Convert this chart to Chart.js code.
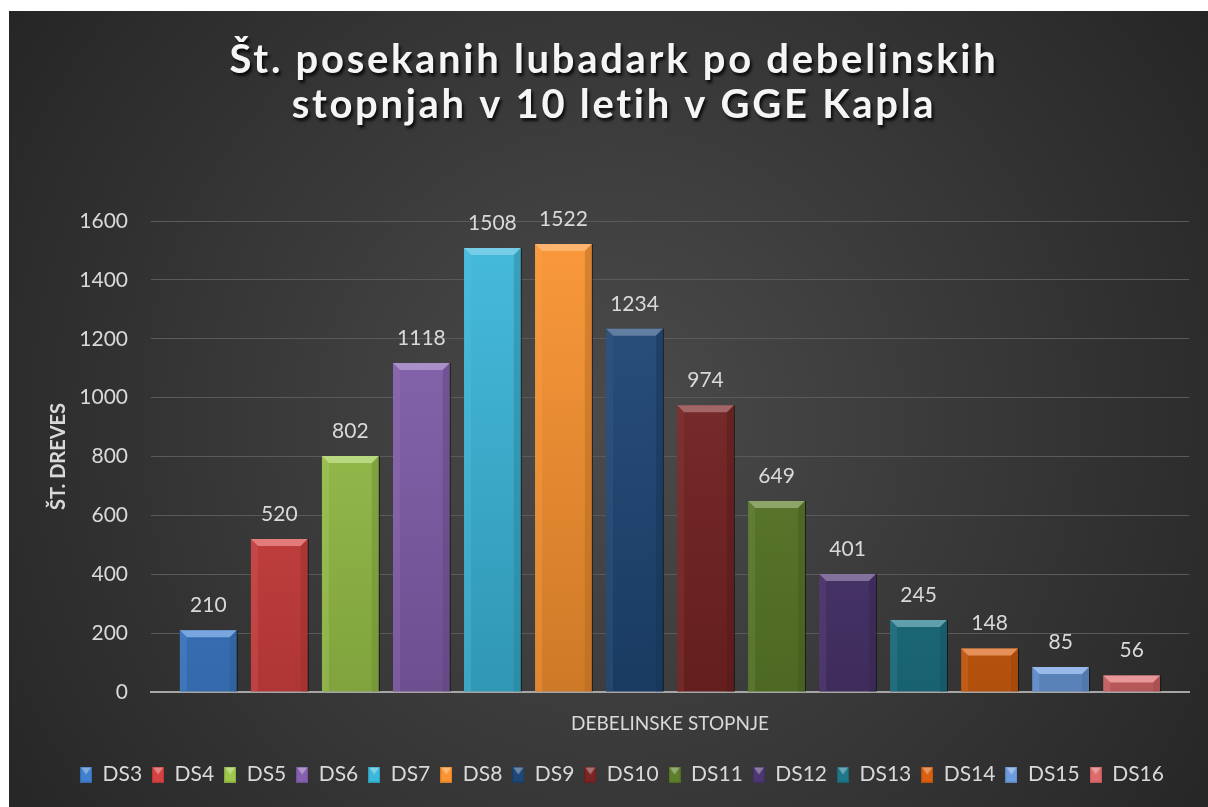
<!DOCTYPE html>
<html>
<head>
<meta charset="utf-8">
<script src="https://cdn.jsdelivr.net/npm/chart.js@4"></script>
<style>
  html, body { margin: 0; padding: 0; background: #fff; }
  #wrap { width: 1208px; height: 807px; }
</style>
</head>
<body>
<div id="wrap"><canvas id="chart" width="1208" height="807"></canvas></div>
<script>
// data
const seriesNames = ["DS3", "DS4", "DS5", "DS6", "DS7", "DS8", "DS9", "DS10", "DS11", "DS12", "DS13", "DS14", "DS15", "DS16"];
const seriesValues = [210, 520, 802, 1118, 1508, 1522, 1234, 974, 649, 401, 245, 148, 85, 56];
const seriesColors = ["#3f80d0", "#d64241", "#9cc74a", "#8560b0", "#3bb8dc", "#fb9430", "#1f4878",
                      "#7a2424", "#5e7f2a", "#4d3672", "#1d7689", "#d86010", "#6d9de0", "#dd6a6c"];
const yTicks = [0, 200, 400, 600, 800, 1000, 1200, 1400, 1600];
const titleLines = ["Št. posekanih lubadark po debelinskih", "stopnjah v 10 letih v GGE Kapla"];
const yTitle = "ŠT. DREVES";
const xTitle = "DEBELINSKE STOPNJE";

const FONT = "Lato, 'Open Sans', sans-serif";
const TXT = "#d9d9d9";

function shade(hex, amt) {
  let r = parseInt(hex.slice(1, 3), 16), g = parseInt(hex.slice(3, 5), 16), b = parseInt(hex.slice(5, 7), 16);
  const f = v => Math.max(0, Math.min(255, Math.round(amt >= 0 ? v + (255 - v) * amt : v * (1 + amt))));
  return "rgb(" + f(r) + "," + f(g) + "," + f(b) + ")";
}

// small bevelled icons for the legend
function legendIcon(col) {
  const c = document.createElement("canvas");
  c.width = 12; c.height = 16;
  const x = c.getContext("2d");
  x.fillStyle = shade(col, -0.15);
  x.fillRect(0, 0, 12, 16);
  x.fillStyle = col;
  x.fillRect(1, 1, 10, 14);
  x.fillStyle = shade(col, 0.35);
  x.beginPath(); x.moveTo(1, 1); x.lineTo(11, 1); x.lineTo(6, 8); x.closePath(); x.fill();
  return c;
}
const icons = seriesColors.map(legendIcon);

const bgPlugin = {
  id: "bg",
  beforeDraw(chart) {
    const ctx = chart.ctx;
    ctx.save();
    ctx.fillStyle = "#ffffff";
    ctx.fillRect(0, 0, chart.width, chart.height);
    const g = ctx.createRadialGradient(610, 420, 0, 610, 420, 760);
    g.addColorStop(0, "#4b4b4b");
    g.addColorStop(1, "#242424");
    ctx.fillStyle = g;
    ctx.fillRect(9, 11, chart.width - 9, chart.height - 11);
    ctx.restore();
  },
  afterLayout(chart) {
    // legend sits a bit right of the canvas centre in the original
    chart.legend.left += 55;
  }
};

const titlePlugin = {
  id: "titleDraw",
  afterDraw(chart) {
    const ctx = chart.ctx;
    ctx.save();
    ctx.font = "bold 40px " + FONT;
    ctx.letterSpacing = "2.7px";
    ctx.textAlign = "center";
    ctx.textBaseline = "middle";
    ctx.shadowColor = "rgba(0,0,0,0.8)";
    ctx.shadowOffsetX = 2;
    ctx.shadowOffsetY = 3;
    ctx.shadowBlur = 3;
    ctx.fillStyle = "#f5f5f5";
    ctx.fillText(titleLines[0], 614, 60);
    ctx.fillText(titleLines[1], 614, 105);
    ctx.restore();
  }
};

// bevel on top of each bar plus value labels
const bevelPlugin = {
  id: "bevel",
  afterDatasetsDraw(chart) {
    const ctx = chart.ctx;
    ctx.save();
    chart.data.datasets.forEach((ds, i) => {
      const meta = chart.getDatasetMeta(i);
      meta.data.forEach((bar, j) => {
        const col = seriesColors[i];
        const l = bar.x - bar.width / 2, r = bar.x + bar.width / 2;
        const t = bar.y, b = bar.base;
        const bv = Math.min(7, (b - t) / 2);
        ctx.fillStyle = shade(col, 0.3);
        ctx.beginPath();
        ctx.moveTo(l, t); ctx.lineTo(r, t); ctx.lineTo(r - bv, t + bv); ctx.lineTo(l + bv, t + bv);
        ctx.closePath(); ctx.fill();
        ctx.fillStyle = shade(col, 0.12);
        ctx.beginPath();
        ctx.moveTo(l, t); ctx.lineTo(l + bv, t + bv); ctx.lineTo(l + bv, b); ctx.lineTo(l, b);
        ctx.closePath(); ctx.globalAlpha = 0.35; ctx.fill(); ctx.globalAlpha = 1;
        ctx.fillStyle = shade(col, -0.3);
        ctx.beginPath();
        ctx.moveTo(r, t); ctx.lineTo(r - bv, t + bv); ctx.lineTo(r - bv, b); ctx.lineTo(r, b);
        ctx.closePath(); ctx.globalAlpha = 0.45; ctx.fill(); ctx.globalAlpha = 1;
        ctx.strokeStyle = "rgba(0,0,0,0.55)";
        ctx.lineWidth = 1;
        ctx.beginPath(); ctx.moveTo(r + 0.5, t); ctx.lineTo(r + 0.5, b); ctx.stroke();

        ctx.font = "21px " + FONT;
        ctx.fillStyle = TXT;
        ctx.textAlign = "center";
        ctx.textBaseline = "middle";
        ctx.fillText(String(ds.data[j]), bar.x, t - 25);
      });
    });
    ctx.restore();
  }
};

const datasets = seriesNames.map((name, i) => ({
  label: name,
  data: [seriesValues[i]],
  backgroundColor: (c) => {
    const area = c.chart.chartArea;
    if (!area) return seriesColors[i];
    const el = c.element;
    const top = el && el.y !== undefined ? el.y : area.top;
    const g = c.chart.ctx.createLinearGradient(0, top, 0, area.bottom);
    g.addColorStop(0, shade(seriesColors[i], 0.06));
    g.addColorStop(1, shade(seriesColors[i], -0.18));
    return g;
  },
  borderWidth: 0,
  pointStyle: icons[i],
  categoryPercentage: 0.958,
  barPercentage: 0.8
}));

new Chart(document.getElementById("chart"), {
  type: "bar",
  data: { labels: [""], datasets: datasets },
  options: {
    responsive: false,
    animation: false,
    events: [],
    layout: { padding: { top: 221, right: 19, bottom: 12, left: 0 } },
    plugins: {
      title: { display: false },
      tooltip: { enabled: false },
      legend: {
        position: "bottom",
        labels: {
          usePointStyle: true,
          boxWidth: 12,
          boxHeight: 16,
          padding: 10,
          color: TXT,
          font: { family: FONT, size: 21 }
        }
      }
    },
    scales: {
      x: {
        ticks: { display: false },
        grid: { display: false, drawTicks: false },
        border: { display: true, color: "#a6a6a6", width: 2 },
        title: { display: true, text: xTitle, color: TXT, font: { family: FONT, size: 19 }, padding: { top: 0, bottom: 19 } },
        afterFit(s) { s.height = 62; }
      },
      y: {
        min: 0,
        max: 1600,
        afterBuildTicks(s) { s.ticks = yTicks.map(v => ({ value: v })); },
        ticks: { color: TXT, padding: 23, font: { family: FONT, size: 21 }, callback: v => String(v) },
        grid: { color: "#5a5a5a", lineWidth: 1, drawTicks: false },
        border: { display: false },
        title: { display: true, text: yTitle, color: TXT, font: { family: FONT, size: 20, weight: "bold" }, padding: { top: 47, bottom: 0 } },
        afterFit(s) { s.width = 151; }
      }
    }
  },
  plugins: [bgPlugin, titlePlugin, bevelPlugin]
});
</script>
</body>
</html>
